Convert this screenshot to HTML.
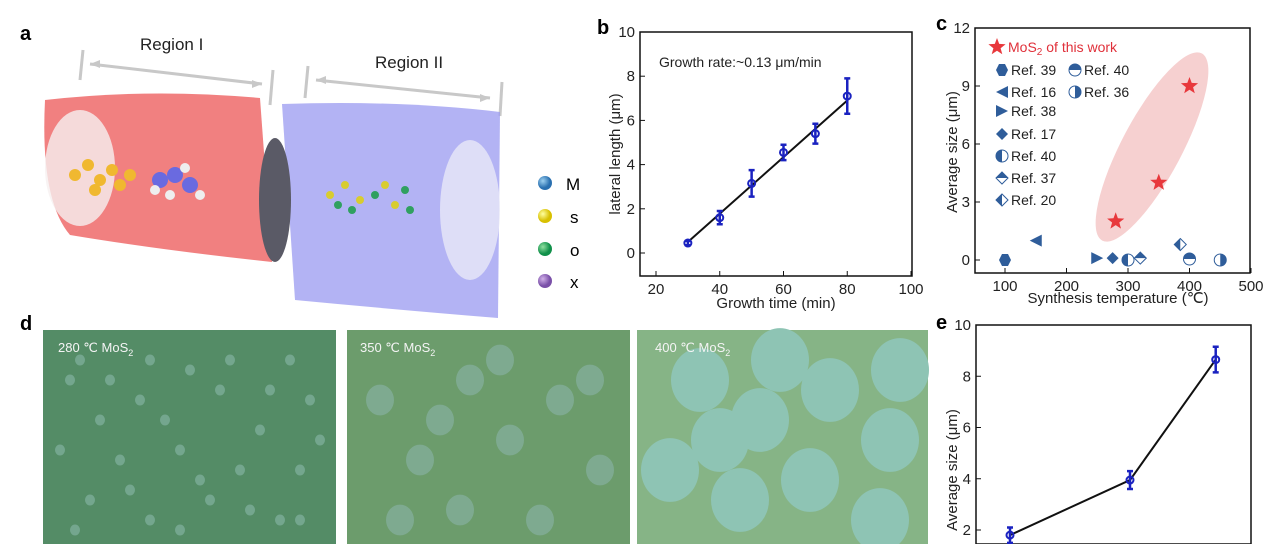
<!DOCTYPE html>
<html><head><meta charset="utf-8"><style>
body{margin:0;background:#fff;width:1280px;height:544px;overflow:hidden;font-family:"Liberation Sans",sans-serif;}
svg{position:absolute;left:0;top:0}
text{font-family:"Liberation Sans",sans-serif;}
</style></head><body>
<svg width="1280" height="544" viewBox="0 0 1280 544" overflow="hidden">
<defs>
<radialGradient id="gM" cx="35%" cy="35%"><stop offset="0" stop-color="#9cd0f0"/><stop offset="1" stop-color="#2a70b0"/></radialGradient>
<radialGradient id="gS" cx="35%" cy="35%"><stop offset="0" stop-color="#ffffa0"/><stop offset="1" stop-color="#d8c000"/></radialGradient>
<radialGradient id="gO" cx="35%" cy="35%"><stop offset="0" stop-color="#90e0a0"/><stop offset="1" stop-color="#10904a"/></radialGradient>
<radialGradient id="gX" cx="35%" cy="35%"><stop offset="0" stop-color="#d0b0e8"/><stop offset="1" stop-color="#7a50a8"/></radialGradient>
</defs>

<!-- Panel a -->
<g>
<text x="20" y="40" font-size="20" font-weight="bold">a</text>
<g stroke="#c8c8c8" stroke-width="3" fill="none">
<line x1="83" y1="50" x2="80" y2="80"/><line x1="273" y1="70" x2="270" y2="105"/>
<line x1="90" y1="64" x2="262" y2="84"/>
<line x1="308" y1="66" x2="305" y2="98"/><line x1="502" y1="82" x2="500" y2="116"/>
<line x1="316" y1="80" x2="490" y2="98"/>
</g>
<path d="M90 64l10-4v8zM262 84l-10-4v8zM316 80l10-4v8zM490 98l-10-4v8z" fill="#c8c8c8"/>
<text x="140" y="50" font-size="17" fill="#222">Region I</text>
<text x="375" y="68" font-size="17" fill="#222">Region II</text>
<path d="M45 100 Q150 88 260 98 L272 262 Q160 250 70 235 Q40 200 45 100Z" fill="#ee6a6a" opacity="0.85"/>
<ellipse cx="80" cy="168" rx="35" ry="58" fill="#f6f0f0" opacity="0.8"/>
<path d="M282 104 Q400 100 500 112 L498 318 Q400 310 295 300Z" fill="#9a9af0" opacity="0.75"/>
<ellipse cx="470" cy="210" rx="30" ry="70" fill="#e8e8f8" opacity="0.8"/>
<ellipse cx="275" cy="200" rx="16" ry="62" fill="#5a5a66"/>
<g fill="#f0b830"><circle cx="75" cy="175" r="6"/><circle cx="88" cy="165" r="6"/><circle cx="100" cy="180" r="6"/><circle cx="112" cy="170" r="6"/><circle cx="120" cy="185" r="6"/><circle cx="130" cy="175" r="6"/><circle cx="95" cy="190" r="6"/></g>
<g fill="#6a6ae0"><circle cx="160" cy="180" r="8"/><circle cx="175" cy="175" r="8"/><circle cx="190" cy="185" r="8"/></g>
<g fill="#eee"><circle cx="155" cy="190" r="5"/><circle cx="170" cy="195" r="5"/><circle cx="185" cy="168" r="5"/><circle cx="200" cy="195" r="5"/></g>
<g fill="#d8cc30"><circle cx="330" cy="195" r="4"/><circle cx="345" cy="185" r="4"/><circle cx="360" cy="200" r="4"/><circle cx="385" cy="185" r="4"/><circle cx="395" cy="205" r="4"/></g>
<g fill="#30a060"><circle cx="338" cy="205" r="4"/><circle cx="352" cy="210" r="4"/><circle cx="375" cy="195" r="4"/><circle cx="405" cy="190" r="4"/><circle cx="410" cy="210" r="4"/></g>
<circle cx="545" cy="183" r="7" fill="url(#gM)"/><text x="566" y="190" font-size="17">M</text>
<circle cx="545" cy="216" r="7" fill="url(#gS)"/><text x="570" y="223" font-size="17">s</text>
<circle cx="545" cy="249" r="7" fill="url(#gO)"/><text x="570" y="256" font-size="17">o</text>
<circle cx="545" cy="281" r="7" fill="url(#gX)"/><text x="570" y="288" font-size="17">x</text>
</g>

<!-- Panel d photos -->
<g>
<text x="20" y="330" font-size="20" font-weight="bold">d</text>
<rect x="43" y="330" width="293" height="214" fill="#548c66"/>
<g fill="#74a68e" id="dots280"></g>
<rect x="347" y="330" width="283" height="214" fill="#6c9c6c"/>
<g fill="#7eaa90" id="dots350"></g>
<rect x="637" y="330" width="291" height="214" fill="#86b486"/>
<g fill="#8ec4b4" id="dots400"></g>
<text x="58" y="352" font-size="13" fill="#f4f4f4">280 ℃  MoS<tspan font-size="9" dy="4">2</tspan></text>
<text x="360" y="352" font-size="13" fill="#f4f4f4">350 ℃  MoS<tspan font-size="9" dy="4">2</tspan></text>
<text x="655" y="352" font-size="13" fill="#f4f4f4">400 ℃  MoS<tspan font-size="9" dy="4">2</tspan></text>
</g>

<g id="panelB"></g>
<g id="panelC"></g>
<g id="panelE"></g>
</svg>
<script>
const NS="http://www.w3.org/2000/svg";
function mk(parent,tag,attrs,txt){const e=document.createElementNS(NS,tag);for(const k in attrs)e.setAttribute(k,attrs[k]);if(txt!==undefined)e.textContent=txt;parent.appendChild(e);return e;}

const blobs280=[[70,380],[100,420],[140,400],[180,450],[220,390],[260,430],[300,470],[90,500],[150,520],[210,500],[280,520],[120,460],[240,470],[310,400],[60,450],[190,370],[80,360],[230,360],[270,390],[165,420],[200,480],[110,380],[250,510],[130,490],[320,440],[300,520],[75,530],[180,530],[150,360],[290,360]];
const blobs350=[[380,400],[420,460],[470,380],[510,440],[560,400],[600,470],[400,520],[460,510],[540,520],[590,380],[500,360],[440,420]];
const blobs400=[[700,380],[760,420],[830,390],[890,440],[670,470],[740,500],[810,480],[880,520],[900,370],[780,360],[720,440]];
function drawBlobs(id,arr,r){const g=document.getElementById(id);arr.forEach(p=>{const c=mk(g,'ellipse',{cx:p[0],cy:p[1],rx:r,ry:r*1.1});

});}
drawBlobs('dots280',blobs280,5);drawBlobs('dots350',blobs350,14);drawBlobs('dots400',blobs400,29);

const bTimes=[30,40,50,60,70,80];
const bLengths=[0.45,1.6,3.15,4.55,5.4,7.1];
const bErrors=[0.1,0.3,0.6,0.35,0.45,0.8];
const bFit=[[30,0.5],[80,6.9]];
const bXTicks=[20,40,60,80,100];
const bYTicks=[0,2,4,6,8,10];

const cStarsT=[280,350,400];
const cStarsS=[2,4,9];
const cRefNames=["Ref. 39","Ref. 16","Ref. 38","Ref. 17","Ref. 40","Ref. 37","Ref. 20","Ref. 40","Ref. 36"];
const cRefT=[100,150,250,275,300,320,385,400,450];
const cRefS=[0,1,0.1,0.1,0,0.1,0.8,0.05,0];
const cRefShape=["hex","ltri","rtri","diamond","halfcircL","halfdiaT","halfdiaL","halfcircT","halfcircR"];
const cXTicks=[100,200,300,400,500];
const cYTicks=[0,3,6,9,12];

const eTemps=[280,350,400];
const eSizes=[1.8,3.95,8.65];
const eErrors=[0.3,0.35,0.5];
const eYTicks=[2,4,6,8,10];

function axes(g,box,xs,ys,xt,yt){
  mk(g,'rect',{x:box.l,y:box.t,width:box.r-box.l,height:box.b-box.t,fill:'none',stroke:'#111','stroke-width':1.5});
  xt.forEach(v=>{const x=xs(v);if(x<box.l-1||x>box.r+1)return;mk(g,'line',{x1:x,y1:box.b,x2:x,y2:box.b-5,stroke:'#111'});
    const t=mk(g,'text',{x:x,y:box.b+18,'font-size':15,'text-anchor':'middle',fill:'#222'},v);
    });
  yt.forEach(v=>{const y=ys(v);if(y<box.t-1||y>box.b+1)return;mk(g,'line',{x1:box.l,y1:y,x2:box.l+5,y2:y,stroke:'#111'});
    const t=mk(g,'text',{x:box.l-5,y:y+5,'font-size':15,'text-anchor':'end',fill:'#222'},v);
    });
}

(function(){
const g=document.getElementById('panelB');
const box={l:640,r:912,t:32,b:276};
const xs=v=>656+(v-20)*(911-656)/80, ys=v=>253-v*(253-32)/10;
mk(g,'text',{x:597,y:34,'font-size':20,'font-weight':'bold'},'b');
axes(g,box,xs,ys,bXTicks,bYTicks);
const xl=mk(g,'text',{x:776,y:308,'font-size':15,'text-anchor':'middle',fill:'#222'},'Growth time (min)');

const yl=mk(g,'text',{x:620,y:154,'font-size':15,'text-anchor':'middle',fill:'#222',transform:'rotate(-90 620 154)'},'lateral length (μm)');

const an=mk(g,'text',{x:659,y:67,'font-size':14,fill:'#222'},'Growth rate:~0.13 μm/min');

const fl=mk(g,'line',{x1:xs(bFit[0][0]),y1:ys(bFit[0][1]),x2:xs(bFit[1][0]),y2:ys(bFit[1][1]),stroke:'#111','stroke-width':2});

bTimes.forEach((t,i)=>{const x=xs(t),y=ys(bLengths[i]),e=bErrors[i];
  const eb=mk(g,'path',{d:`M${x} ${ys(bLengths[i]+e)}V${ys(bLengths[i]-e)}M${x-3} ${ys(bLengths[i]+e)}h6M${x-3} ${ys(bLengths[i]-e)}h6`,stroke:'#1a22c0','stroke-width':2.5,fill:'none'});
  
  const c=mk(g,'circle',{cx:x,cy:y,r:3.5,fill:'none',stroke:'#1a22c0','stroke-width':2});
  });
})();

(function(){
const g=document.getElementById('panelC');
const box={l:975,r:1250,t:28,b:273};
const xs=v=>1005+(v-100)*(1251-1005)/400, ys=v=>260-v*(260-28)/12;
mk(g,'text',{x:936,y:30,'font-size':20,'font-weight':'bold'},'c');
const el=mk(g,'ellipse',{cx:1152,cy:147,rx:106,ry:30,fill:'#f5c8c8',opacity:0.85,transform:'rotate(-62 1152 147)'});

axes(g,box,xs,ys,cXTicks,cYTicks);
const xl=mk(g,'text',{x:1118,y:303,'font-size':15,'text-anchor':'middle',fill:'#222'},'Synthesis temperature (℃)');

const yl=mk(g,'text',{x:957,y:152,'font-size':15,'text-anchor':'middle',fill:'#222',transform:'rotate(-90 957 152)'},'Average size (μm)');

function star(cx,cy,r){let d='';for(let k=0;k<10;k++){const a=-Math.PI/2+k*Math.PI/5,rr=k%2?r*0.42:r;d+=(k?'L':'M')+(cx+rr*Math.cos(a)).toFixed(1)+' '+(cy+rr*Math.sin(a)).toFixed(1);}return d+'Z';}
const blue='#2f5d9a';
function shape(sh,x,y){
  const s=6;
  if(sh==='hex')return mk(g,'path',{d:`M${x-s} ${y}L${x-s/2} ${y-s}H${x+s/2}L${x+s} ${y}L${x+s/2} ${y+s}H${x-s/2}Z`,fill:blue});
  if(sh==='ltri')return mk(g,'path',{d:`M${x-s} ${y}L${x+s} ${y-s}V${y+s}Z`,fill:blue});
  if(sh==='rtri')return mk(g,'path',{d:`M${x+s} ${y}L${x-s} ${y-s}V${y+s}Z`,fill:blue});
  if(sh==='diamond')return mk(g,'path',{d:`M${x} ${y-s}L${x+s} ${y}L${x} ${y+s}L${x-s} ${y}Z`,fill:blue});
  if(sh.startsWith('halfcirc')){const gg=mk(g,'g',{});mk(gg,'circle',{cx:x,cy:y,r:s,fill:'#fff',stroke:blue,'stroke-width':1});
    const dd=sh==='halfcircL'?`M${x} ${y-s}A${s} ${s} 0 0 0 ${x} ${y+s}Z`:sh==='halfcircR'?`M${x} ${y-s}A${s} ${s} 0 0 1 ${x} ${y+s}Z`:`M${x-s} ${y}A${s} ${s} 0 0 1 ${x+s} ${y}Z`;
    mk(gg,'path',{d:dd,fill:blue});return gg;}
  const gg=mk(g,'g',{});mk(gg,'path',{d:`M${x} ${y-s}L${x+s} ${y}L${x} ${y+s}L${x-s} ${y}Z`,fill:'#fff',stroke:blue});
  mk(gg,'path',{d:sh==='halfdiaT'?`M${x-s} ${y}L${x} ${y-s}L${x+s} ${y}Z`:`M${x} ${y-s}L${x-s} ${y}L${x} ${y+s}Z`,fill:blue});return gg;
}
cRefT.forEach((t,i)=>{const m=shape(cRefShape[i],xs(t),ys(cRefS[i]));
  });
cStarsT.forEach((t,i)=>{const m=mk(g,'path',{d:star(xs(t),ys(cStarsS[i]),9),fill:'#e8383c'});
  });
const ls=mk(g,'path',{d:star(997,47,9),fill:'#e8383c'});

const lt=mk(g,'text',{x:1008,y:52,'font-size':14,fill:'#e0303a'});lt.innerHTML='MoS<tspan font-size="10" dy="3">2</tspan><tspan dy="-3"> of this work</tspan>';

const legY=[70,92,111,134,156,178,200];
const legShapes=["hex","ltri","rtri","diamond","halfcircL","halfdiaT","halfdiaL"];
legY.forEach((y,i)=>{const m=shape(legShapes[i],1002,y);
  const t=mk(g,'text',{x:1011,y:y+5,'font-size':14,fill:'#222'},cRefNames[i]);});
[[1075,70,'halfcircT',cRefNames[7]],[1075,92,'halfcircR',cRefNames[8]]].forEach(a=>{const m=shape(a[2],a[0],a[1]);
  const t=mk(g,'text',{x:a[0]+9,y:a[1]+5,'font-size':14,fill:'#222'},a[3]);});
})();

(function(){
const g=document.getElementById('panelE');
const box={l:976,r:1251,t:325,b:544};
const xs=v=>1010+(v-280)*(120/70), ys=v=>325+(10-v)*(205/8);
mk(g,'text',{x:936,y:329,'font-size':20,'font-weight':'bold'},'e');
axes(g,box,xs,ys,[],eYTicks);
const yl=mk(g,'text',{x:957,y:470,'font-size':15,'text-anchor':'middle',fill:'#222',transform:'rotate(-90 957 470)'},'Average size (μm)');

const ln=mk(g,'polyline',{points:eTemps.map((t,i)=>xs(t)+','+ys(eSizes[i])).join(' '),fill:'none',stroke:'#111','stroke-width':2});

eTemps.forEach((t,i)=>{const x=xs(t),v=eSizes[i],e=eErrors[i];
  const eb=mk(g,'path',{d:`M${x} ${ys(v+e)}V${ys(v-e)}M${x-3} ${ys(v+e)}h6M${x-3} ${ys(v-e)}h6`,stroke:'#1a22c0','stroke-width':2.5,fill:'none'});
  
  const c=mk(g,'circle',{cx:x,cy:ys(v),r:3.5,fill:'none',stroke:'#1a22c0','stroke-width':2});
  });
})();
</script>
</body></html>
